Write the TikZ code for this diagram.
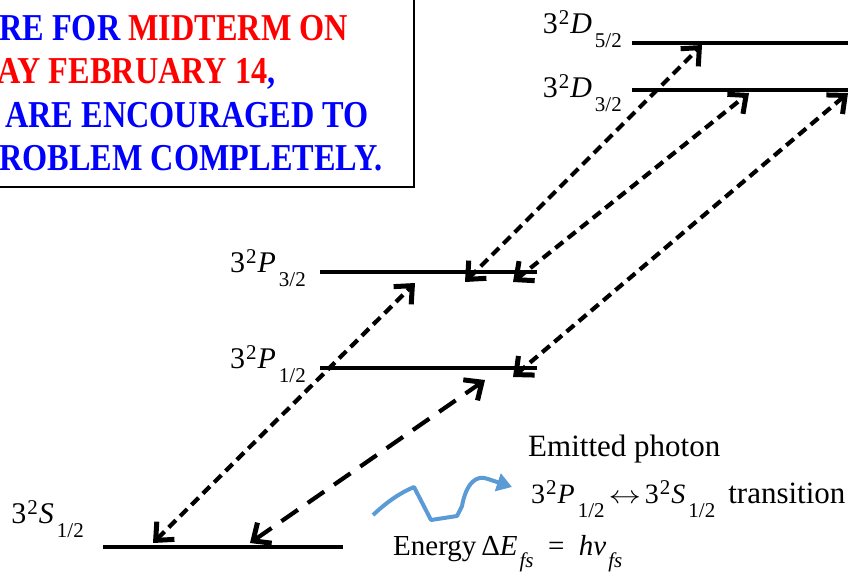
\documentclass[tikz,border=0pt]{standalone}
\usepackage{fontspec}
\setmainfont{Liberation Serif}
\usetikzlibrary{arrows.meta}
\definecolor{noteblue}{HTML}{0000FF}
\definecolor{notered}{HTML}{FF0000}
\definecolor{photon}{HTML}{5B9BD5}

\begin{document}
\begin{tikzpicture}[x=1pt,y=-1pt,font=\fontsize{30}{32}\selectfont,
  level/.style={line width=4pt},
  trans/.style={line width=4.2pt, dash pattern=on 10pt off 6pt,
    {Straight Barb[length=14pt,width=25pt,line width=5pt]}-{Straight Barb[length=14pt,width=25pt,line width=5pt]}},
  translong/.style={trans, dash pattern=on 20pt off 12pt},
  notetext/.style={anchor=base west, inner sep=0pt, font=\fontsize{38}{40}\selectfont\bfseries},
  plain/.style={anchor=base west, inner sep=0pt, font=\fontsize{31}{34}\selectfont}]
\newcommand{\stateterm}[2]{3\kern1pt\raisebox{9pt}{\fontsize{21}{21}\selectfont 2}\kern1pt\textit{#1}\kern3pt\raisebox{-14pt}{\fontsize{21}{21}\selectfont #2}}
\newcommand{\subfs}{\kern2pt\raisebox{-12pt}{\fontsize{21}{21}\selectfont\textit{fs}}}
\useasboundingbox (0,0) rectangle (858,571);
\fill[white] (0,0) rectangle (858,571);

\draw[line width=1.5pt] (-10,-10) rectangle (414,187);
\node[notetext] (note1) at (-1,40) {\scalebox{0.85}[1]{\color{noteblue}RE FOR \color{notered}MIDTERM ON}};
\node[notetext] (note2) at (-3,83) {\scalebox{0.85}[1]{\color{notered}AY FEBRUARY 14\color{noteblue},}};
\node[notetext] (note3) at (5,127) {\scalebox{0.85}[1]{\color{noteblue}ARE ENCOURAGED TO}};
\node[notetext] (note4) at (-1,170) {\scalebox{0.85}[1]{\color{noteblue}ROBLEM COMPLETELY.}};

\draw[level] (632,43) -- (848,43);
\draw[level] (632,90) -- (848,90);
\draw[level] (320,272) -- (537,272);
\draw[level] (320,368) -- (537,368);
\draw[level] (103,547) -- (343,547);

\node[anchor=base east, inner sep=0pt] (d5lab) at (622,33) {\stateterm{D}{5/2}};
\node[anchor=base east, inner sep=0pt] (d3lab) at (622,97) {\stateterm{D}{3/2}};
\node[anchor=base east, inner sep=0pt] (p3lab) at (306,272) {\stateterm{P}{3/2}};
\node[anchor=base east, inner sep=0pt] (p1lab) at (306,368) {\stateterm{P}{1/2}};
\node[anchor=base east, inner sep=0pt] (slab) at (84,523) {\stateterm{S}{1/2}};

\coordinate (s1) at (153,543);
\coordinate (s2) at (250,543);
\coordinate (p3a) at (415,283);
\coordinate (p3b) at (465,282);
\coordinate (p3c) at (513,282);
\coordinate (p1a) at (485,380);
\coordinate (p1b) at (513,377);
\coordinate (d3a) at (749,93);
\coordinate (d3b) at (848,93);
\coordinate (d5a) at (702,45);

\draw[trans] (s1) -- (p3a);
\draw[translong] (s2) -- (p1a);
\draw[trans] (p3b) -- (d5a);
\draw[trans] (p3c) -- (d3a);
\draw[trans] (p1b) -- (d3b);

\coordinate (wave0) at (373,515);
\coordinate (wave1) at (512,487);
\draw[photon, line width=4pt, line join=round, -{Triangle[length=15pt,width=18pt]}]
  (wave0) .. controls (388,501) and (400,493) .. (414,487) -- (431,520) -- (457,516) -- (462,506)
  .. controls (466,484) and (476,474) .. (488,479) -- (wave1);

\node[plain] (emit) at (528,456) {Emitted photon};
\node[plain] (trans) at (531,503) {{\fontsize{28}{30}\selectfont\stateterm{P}{1/2}\kern4pt\scalebox{1.3}[1]{$\leftrightarrow$}\kern4pt\stateterm{S}{1/2}}\kern13pt transition};
\node[anchor=base west, inner sep=0pt, font=\fontsize{29}{30}\selectfont] (energy) at (393,555)
  {Energy\,Δ\textit{E}\subfs\enspace=\enspace\textit{hν}\subfs};
\end{tikzpicture}
\end{document}
